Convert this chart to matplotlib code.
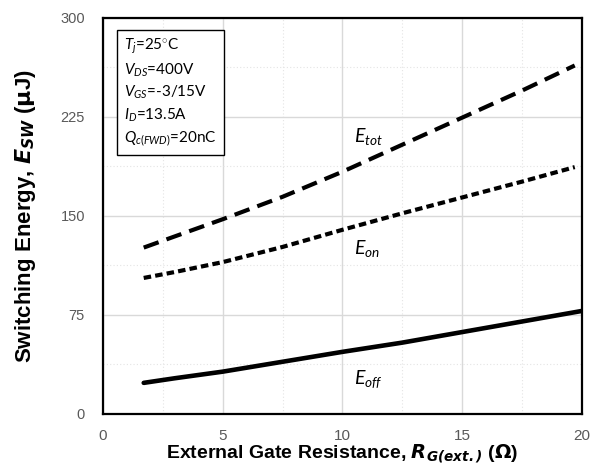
import numpy as np
import matplotlib.pyplot as plt
from matplotlib.ticker import MultipleLocator

# switching energy vs external gate resistance (uJ)
rg = [1.7, 3.0, 5.0, 7.5, 10.0, 12.5, 15.0, 17.5, 19.7]
e_tot = [126, 134.5, 147.5, 164.5, 183.5, 204, 224.5, 245, 264]
e_on = [103, 107.5, 115, 126.5, 139.5, 152, 164, 176, 187]
rg_off = [1.7, 3.0, 5.0, 7.5, 10.0, 12.5, 15.0, 17.5, 20.0]
e_off = [23.5, 27, 32, 39.5, 47, 54, 62, 70, 78]

conditions = [
    r"$T_j$=25$^{\circ}$C",
    r"$V_{DS}$=400V",
    r"$V_{GS}$=-3/15V",
    r"$I_D$=13.5A",
    r"$Q_{c(FWD)}$=20nC",
]

plt.rcParams['mathtext.fontset'] = 'custom'
plt.rcParams['mathtext.rm'] = 'Lato'
plt.rcParams['mathtext.it'] = 'Lato:italic'

fig = plt.figure(figsize=(5.92, 4.73), dpi=100)
ax = fig.add_axes([0.174, 0.125, 0.809, 0.837])

ax.plot(rg, e_tot, color='black', lw=3.0, dashes=(3.8, 2.0))
ax.plot(rg, e_on, color='black', lw=3.0, dashes=(1.8, 1.0))
ax.plot(rg_off, e_off, color='black', lw=3.3, solid_capstyle='round')

lab = dict(fontsize=14, family='Lato', style='italic', ha='left', va='center')
ax.text(10.5, 210, r"$E_{tot}$", **lab)
ax.text(10.5, 125, r"$E_{on}$", **lab)
ax.text(10.5, 26, r"$E_{off}$", **lab)

ax.set_xlim(0, 20)
ax.set_ylim(0, 300)
ax.xaxis.set_major_locator(MultipleLocator(5))
ax.yaxis.set_major_locator(MultipleLocator(75))
ax.xaxis.set_minor_locator(MultipleLocator(2.5))
ax.yaxis.set_minor_locator(MultipleLocator(37.5))
ax.grid(which='major', color='#d9d9d9', lw=1.0)
ax.grid(which='minor', color='#e4e4e4', lw=0.8, ls=(0, (1, 2)))
ax.set_axisbelow(True)
ax.tick_params(which='both', length=0, labelcolor='#595959')
ax.tick_params(axis='x', labelsize=11, pad=11)
ax.tick_params(axis='y', labelsize=10.5, pad=13)
for lbl in ax.get_xticklabels() + ax.get_yticklabels():
    lbl.set_family('Liberation Sans')
for s in ax.spines.values():
    s.set_linewidth(1.6)

ax.set_xlabel(r"External Gate Resistance, $\mathbfit{R}_{\mathbfit{G(ext.)}}$ ($\mathbf{\Omega}$)",
              family='Liberation Sans', fontsize=14, fontweight='bold', labelpad=-1)
ax.set_ylabel(r"Switching Energy, $\mathbfit{E}_{\mathbfit{SW}}$ ($\mathbf{\mu}$J)",
              family='Liberation Sans', fontsize=16, fontweight='bold', labelpad=16)

ax.text(0.044, 0.952, "\n".join(conditions), transform=ax.transAxes, fontsize=11,
        family='Lato', va='top', ha='left', linespacing=1.4,
        bbox=dict(boxstyle='square,pad=0.45', fc='white', ec='black', lw=1.0))

fig.savefig('out.png', dpi=100)
